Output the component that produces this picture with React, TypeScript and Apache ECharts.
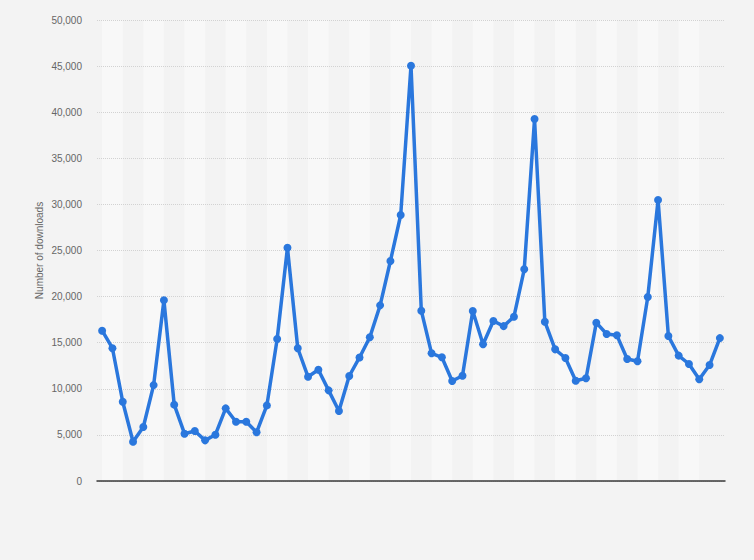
import React, { useEffect, useRef } from "react";
import * as echarts from "echarts";

const categories: string[] = [
  "Jan '17", "Feb '17", "Mar '17", "Apr '17", "May '17", "Jun '17", "Jul '17", "Aug '17", "Sep '17", "Oct '17", "Nov '17", "Dec '17",
  "Jan '18", "Feb '18", "Mar '18", "Apr '18", "May '18", "Jun '18", "Jul '18", "Aug '18", "Sep '18", "Oct '18", "Nov '18", "Dec '18",
  "Jan '19", "Feb '19", "Mar '19", "Apr '19", "May '19", "Jun '19", "Jul '19", "Aug '19", "Sep '19", "Oct '19", "Nov '19", "Dec '19",
  "Jan '20", "Feb '20", "Mar '20", "Apr '20", "May '20", "Jun '20", "Jul '20", "Aug '20", "Sep '20", "Oct '20", "Nov '20", "Dec '20",
  "Jan '21", "Feb '21", "Mar '21", "Apr '21", "May '21", "Jun '21", "Jul '21", "Aug '21", "Sep '21", "Oct '21", "Nov '21", "Dec '21",
  "Jan '22",
];

const downloads: number[] = [
  16300, 14400, 8600, 4260, 5860, 10400, 19600, 8280, 5130, 5420,
  4410, 5020, 7880, 6430, 6430, 5280, 8200, 15400, 25300, 14400,
  11300, 12070, 9830, 7590, 11390, 13400, 15600, 19050, 23860, 28850,
  45040, 18470, 13850, 13420, 10850, 11420, 18440, 14830, 17350, 16800,
  17820, 22960, 39260, 17280, 14280, 13340, 10880, 11140, 17170, 15940,
  15800, 13230, 12980, 19960, 30480, 15730, 13600, 12690, 11030, 12580,
  15500,
];

const yAxisTitle = "Number of downloads";
const yMin = 0;
const yMax = 50000;
const yInterval = 5000;

export default function App() {
  const ref = useRef<HTMLDivElement>(null);

  useEffect(() => {
    if (!ref.current) return;
    const chart = echarts.init(ref.current, null, { renderer: "svg" });

    const stripes: any[] = [];
    for (let i = 0; i + 2 < categories.length; i += 4) {
      stripes.push([{ xAxis: categories[i] }, { xAxis: categories[i + 2] }]);
    }

    const font = "'Liberation Sans', Arial, sans-serif";

    chart.setOption({
      animation: false,
      backgroundColor: "#f3f3f3",
      textStyle: { fontFamily: font },
      grid: { left: 97, right: 29, top: 20, bottom: 79 },
      xAxis: {
        type: "category",
        data: categories,
        boundaryGap: true,
        z: 1.6,
        axisLine: { show: true, lineStyle: { color: "#3a3a3a", width: 1.5 } },
        axisTick: { show: false },
        axisLabel: { show: false },
        splitLine: { show: false },
      },
      yAxis: {
        type: "value",
        min: yMin,
        max: yMax,
        interval: yInterval,
        z: 1.5,
        name: yAxisTitle,
        nameLocation: "middle",
        nameGap: 53,
        nameMoveOverlap: false,
        nameTextStyle: { color: "#666", fontSize: 10, fontFamily: font },
        axisLine: { show: false },
        axisTick: { show: false },
        axisLabel: {
          color: "#666",
          fontSize: 10,
          margin: 15,
          fontFamily: font,
          formatter: (v: number) => v.toLocaleString("en-US"),
        },
        splitLine: { show: true, lineStyle: { color: "#d2d2d2", type: "dotted", width: 1 } },
      },
      series: [
        {
          type: "line",
          data: downloads,
          z: 3,
          symbol: "circle",
          symbolSize: 8,
          showSymbol: true,
          showAllSymbol: true,
          lineStyle: { color: "#2a77dd", width: 3.5 },
          itemStyle: { color: "#2a77dd" },
          markArea: {
            silent: true,
            itemStyle: { color: "#f8f8f8" },
            data: stripes,
          },
        },
      ],
    });

    return () => chart.dispose();
  }, []);

  return (
    <div
      ref={ref}
      style={{ position: "fixed", left: 0, top: 0, width: 754, height: 560 }}
    />
  );
}
